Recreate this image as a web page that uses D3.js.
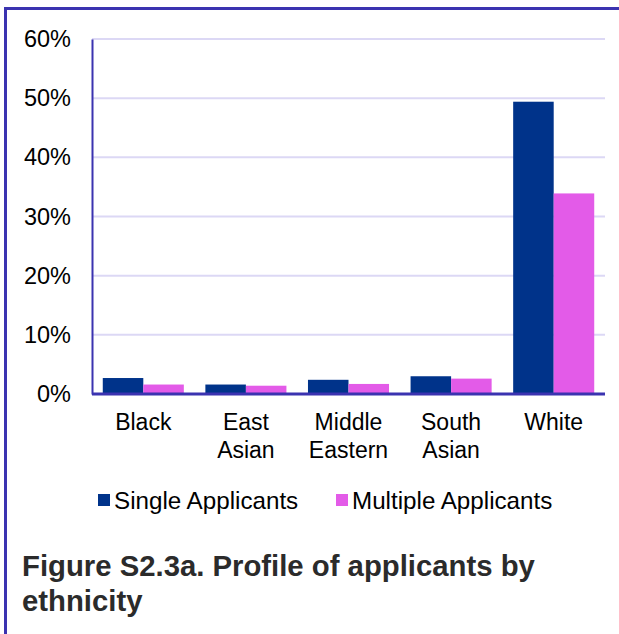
<!DOCTYPE html>
<html>
<head>
<meta charset="utf-8">
<script src="https://cdn.jsdelivr.net/npm/d3@7"></script>
<style>
  html, body { margin: 0; padding: 0; background: #ffffff; }
  svg { display: block; font-family: "Liberation Sans", Arial, sans-serif; }
</style>
</head>
<body>
<svg id="chart" width="619" height="634"></svg>
<script>
// Ethnic groups shown along the x axis (split into two label lines)
const categories = ["Black", "East Asian", "Middle Eastern", "South Asian", "White"];
const categoryLines = [["Black"], ["East", "Asian"], ["Middle", "Eastern"], ["South", "Asian"], ["White"]];

// Share of applicants (%) per group
const seriesNames = ["Single Applicants", "Multiple Applicants"];
const singleApplicants = [2.7, 1.6, 2.4, 3.0, 49.4];
const multipleApplicants = [1.6, 1.4, 1.7, 2.6, 33.9];

const yTicks = [0, 10, 20, 30, 40, 50, 60];
const titleLines = ["Figure S2.3a. Profile of applicants by", "ethnicity"];

const colors = { "Single Applicants": "#00338a", "Multiple Applicants": "#e35be8" };
const frameColor = "#3b33b0";
const gridColor = "#dcd8f5";

const svg = d3.select("#chart");

// Outer frame
svg.append("rect")
  .attr("x", 5.5).attr("y", 8.5)
  .attr("width", 640).attr("height", 660)
  .attr("fill", "none")
  .attr("stroke", frameColor)
  .attr("stroke-width", 3);

const plot = { left: 92, right: 605, top: 39, bottom: 394 };

const x0 = d3.scaleBand()
  .domain(categories)
  .range([plot.left, plot.right])
  .paddingInner(0.21)
  .paddingOuter(0.105);

const x1 = d3.scaleBand()
  .domain(seriesNames)
  .range([0, x0.bandwidth()]);

const y = d3.scaleLinear()
  .domain([0, 60])
  .range([plot.bottom, plot.top]);

// Horizontal gridlines
svg.append("g")
  .selectAll("line")
  .data(yTicks.filter(t => t > 0))
  .join("line")
  .attr("x1", plot.left).attr("x2", plot.right)
  .attr("y1", d => y(d)).attr("y2", d => y(d))
  .attr("stroke", gridColor)
  .attr("stroke-width", 2);

// Bars
const rows = categories.map((c, i) => ({
  category: c,
  values: [
    { series: "Single Applicants", value: singleApplicants[i] },
    { series: "Multiple Applicants", value: multipleApplicants[i] }
  ]
}));

svg.append("g")
  .selectAll("g")
  .data(rows)
  .join("g")
  .attr("transform", d => `translate(${x0(d.category)},0)`)
  .selectAll("rect")
  .data(d => d.values)
  .join("rect")
  .attr("x", d => x1(d.series))
  .attr("y", d => y(d.value))
  .attr("width", x1.bandwidth())
  .attr("height", d => y(0) - y(d.value))
  .attr("fill", d => colors[d.series]);

// Y axis
const yAxis = svg.append("g")
  .attr("transform", `translate(${plot.left},0)`)
  .call(d3.axisLeft(y).tickValues(yTicks).tickFormat(d => d + "%").tickSize(0).tickPadding(21));
yAxis.select(".domain").attr("stroke", frameColor).attr("stroke-width", 2);
yAxis.selectAll("text")
  .attr("font-size", 23.5)
  .attr("fill", "#000")
  .attr("font-family", "Liberation Sans, Arial, sans-serif");

// X axis
const xAxis = svg.append("g")
  .attr("transform", `translate(0,${plot.bottom})`)
  .call(d3.axisBottom(x0).tickSize(0).tickFormat(""));
xAxis.select(".domain")
  .attr("d", `M${plot.left},0H${plot.right}`)
  .attr("stroke", frameColor)
  .attr("stroke-width", 3);

// Category labels (two lines)
const catLabels = svg.append("g")
  .selectAll("text")
  .data(categories)
  .join("text")
  .attr("x", d => x0(d) + x0.bandwidth() / 2)
  .attr("y", 430)
  .attr("text-anchor", "middle")
  .attr("font-size", 23)
  .attr("fill", "#000");
catLabels.selectAll("tspan")
  .data((d, i) => categoryLines[i])
  .join("tspan")
  .attr("x", function () { return d3.select(this.parentNode).attr("x"); })
  .attr("dy", (d, i) => i === 0 ? 0 : 28)
  .text(d => d);

// Legend
const legendItems = [
  { name: seriesNames[0], x: 98 },
  { name: seriesNames[1], x: 336 }
];
const legend = svg.append("g");
legend.selectAll("rect")
  .data(legendItems)
  .join("rect")
  .attr("x", d => d.x).attr("y", 494)
  .attr("width", 12).attr("height", 12)
  .attr("fill", d => colors[d.name]);
legend.selectAll("text")
  .data(legendItems)
  .join("text")
  .attr("x", d => d.x + 16).attr("y", 509)
  .attr("font-size", 24.2)
  .attr("fill", "#000")
  .text(d => d.name);

// Caption
svg.append("g")
  .selectAll("text")
  .data(titleLines)
  .join("text")
  .attr("x", 22)
  .attr("y", (d, i) => 576 + i * 35)
  .attr("font-size", 29.3)
  .attr("font-weight", "bold")
  .attr("fill", "#2b2b2b")
  .text(d => d);
</script>
</body>
</html>
